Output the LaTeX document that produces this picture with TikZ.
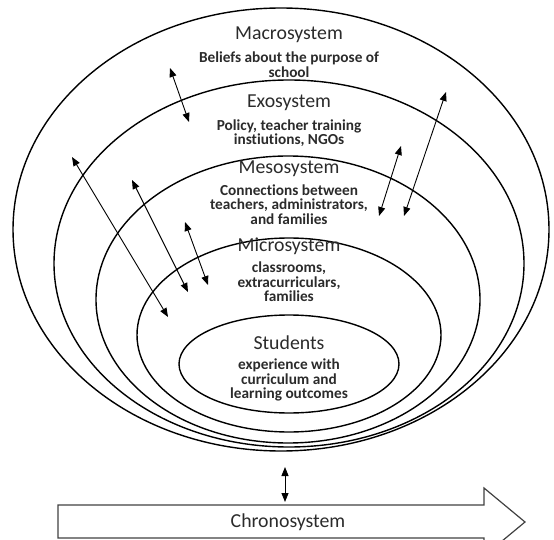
\documentclass[tikz,border=0pt]{standalone}
\usepackage{fontspec}
\setmainfont{Carlito}[Ligatures={NoCommon}]
\usetikzlibrary{shapes.geometric,arrows.meta}

\definecolor{inkgray}{HTML}{2B2B2B}
\tikzstyle{ring} = [ellipse, draw, line width=1.4pt, inner sep=0pt]
\tikzstyle{title} = [font=\fontsize{19.8}{22}\selectfont, text=inkgray, inner sep=0pt]
\tikzstyle{desc} = [font=\bfseries\fontsize{15.3}{14.5}\selectfont, text=inkgray,
align=center, inner sep=0pt]
\tikzstyle{arrow} = [line width=0.9pt, {Triangle[length=9pt,width=7pt]}-{Triangle[length=9pt,width=7pt]}, draw]
\tikzstyle{chrono} = [line width=1.2pt, draw=black!75]

\begin{document}
\begin{tikzpicture}[x=1pt, y=-1pt]
	\useasboundingbox (0,0) rectangle (554,540);
	\clip (0,0) rectangle (554,540);
	%nodes for the rings
	\node[ring, minimum width=536pt, minimum height=443pt](macro) at (281,229.5){};
	\node[ring, minimum width=470pt, minimum height=367pt](exo) at (289,263.5){};
	\node[ring, minimum width=384pt, minimum height=287pt](meso) at (288,299.5){};
	\node[ring, minimum width=304pt, minimum height=194pt](micro) at (289,335){};
	\node[ring, minimum width=220pt, minimum height=98pt](students) at (289,364){};

	%nodes for the texts
	\node[title](macrotitle) at (289,35){Macrosystem};
	\node[desc](macrotext) at (289,64.5){Beliefs about the purpose of \\ school};
	\node[title](exotitle) at (289,103){Exosystem};
	\node[desc](exotext) at (289,133){Policy, teacher training \\ instiutions, NGOs};
	\node[title](mesotitle) at (289,169){Mesosystem};
	\node[desc](mesotext) at (289,204.5){Connections between \\ teachers, administrators, \\ and families};
	\node[title](microtitle) at (289,246){Microsystem};
	\node[desc](microtext) at (289,282){classrooms, \\ extracurriculars, \\ families};
	\node[title](studtitle) at (289,343){Students};
	\node[desc](studtext) at (289,380){experience with \\ curriculum and \\ learning outcomes};

	%nodes for Chronosystem
	\draw[chrono] (58,505) -- (484,505) -- (484,488) -- (525,522) -- (484,556)
		-- (484,538) -- (58,538) -- cycle;
	\node[title](chrono) at (288,522){Chronosystem};

	%ends of the links
	\coordinate (macroin) at (170,68);
	\coordinate (exoout) at (189,122);
	\coordinate (exoin) at (446,92);
	\coordinate (mesofar) at (404,216);
	\coordinate (mesoin) at (401,146);
	\coordinate (mesonear) at (379,216);
	\coordinate (exoleft) at (72,157);
	\coordinate (microfar) at (168,317);
	\coordinate (mesoleft) at (132,180);
	\coordinate (microleft) at (188,292);
	\coordinate (microtop) at (185,222);
	\coordinate (microin) at (208,285);
	\coordinate (ringsbottom) at (285,467);
	\coordinate (chronotop) at (285,502);

	%edges
	\path[arrow] (macroin) -- (exoout);
	\path[arrow] (exoin) -- (mesofar);
	\path[arrow] (mesoin) -- (mesonear);
	\path[arrow] (exoleft) -- (microfar);
	\path[arrow] (mesoleft) -- (microleft);
	\path[arrow] (microtop) -- (microin);
	\path[arrow] (ringsbottom) -- (chronotop);
\end{tikzpicture}
\end{document}
